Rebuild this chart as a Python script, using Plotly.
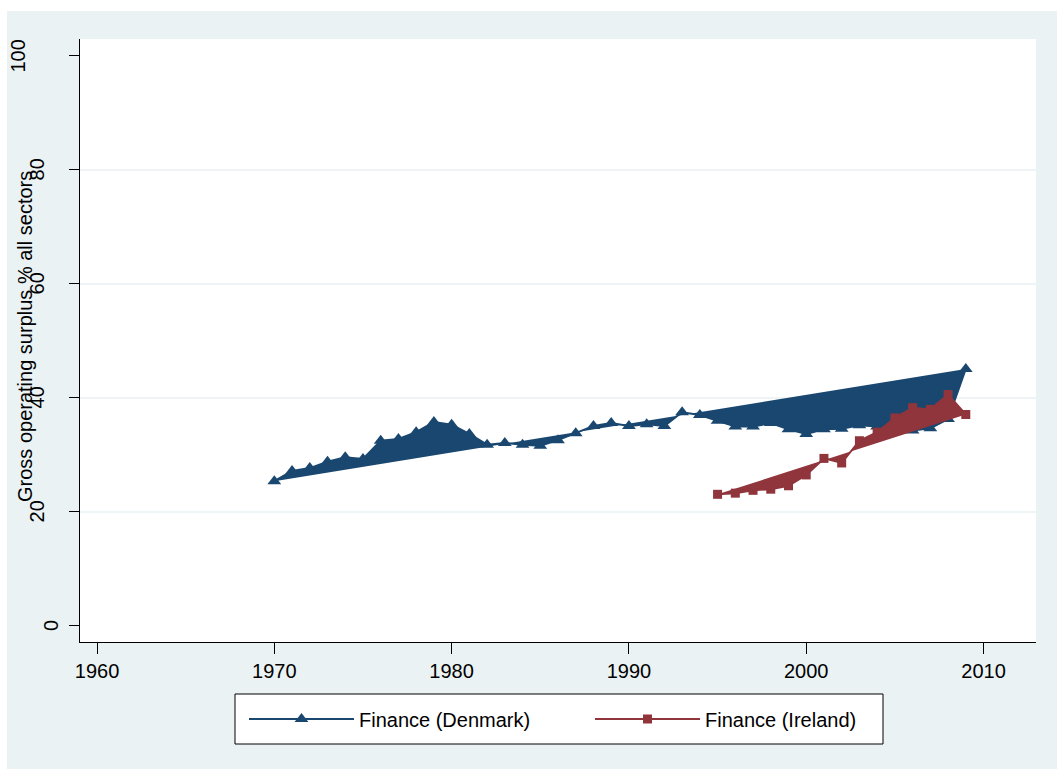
import plotly.graph_objects as go

# Gross operating surplus of the finance sector, % of all sectors
years_denmark = list(range(1970, 2010))
finance_denmark = [
    25.4, 27.2, 27.7, 28.8, 29.6, 29.3, 32.5, 32.8, 34.0, 35.8,
    35.3, 33.7, 31.8, 32.1, 31.8, 31.6, 32.6, 33.8, 35.1, 35.6,
    35.1, 35.4, 35.1, 37.5, 37.0, 36.0, 35.0, 35.0, 35.6, 34.5,
    33.7, 34.5, 34.6, 35.2, 35.0, 35.3, 34.3, 34.7, 36.3, 45.1,
]
years_ireland = list(range(1995, 2010))
finance_ireland = [
    23.1, 23.3, 23.8, 24.0, 24.6, 26.5, 29.4, 28.6, 32.5, 34.0,
    36.5, 38.3, 38.0, 40.6, 37.1,
]

x_ticks = [1960, 1970, 1980, 1990, 2000, 2010]
y_ticks = [0, 20, 40, 60, 80, 100]
y_grid = [20, 40, 60, 80]

series_names = ["Finance (Denmark)", "Finance (Ireland)"]
NAVY = "#1a476f"
MAROON = "#90353b"
BG = "#eaf2f3"
FONT = "Liberation Sans, Arial, Helvetica, sans-serif"

# page geometry (pixels)
W, H = 1057, 772
L, R, T, B = 80, 1036, 39, 642


def px_x(p):
    return (p - L) / (R - L)


def px_y(p):
    return (B - p) / (B - T)


fig = go.Figure()

# each series is drawn as a closed, filled outline
fig.add_trace(go.Scatter(
    x=years_denmark, y=finance_denmark, mode="lines+markers",
    fill="toself", fillcolor=NAVY,
    line=dict(color=NAVY, width=2),
    marker=dict(symbol="triangle-up", size=12, color=NAVY),
    showlegend=False, hoverinfo="x+y",
))
fig.add_trace(go.Scatter(
    x=years_ireland, y=finance_ireland, mode="lines+markers",
    fill="toself", fillcolor=MAROON,
    line=dict(color=MAROON, width=2),
    marker=dict(symbol="square", size=9, color=MAROON),
    showlegend=False, hoverinfo="x+y",
))

# legend entries
fig.add_trace(go.Scatter(
    x=[None], y=[None], mode="lines+markers", name=series_names[0],
    line=dict(color=NAVY, width=2),
    marker=dict(symbol="triangle-up", size=12, color=NAVY),
))
fig.add_trace(go.Scatter(
    x=[None], y=[None], mode="lines+markers", name=series_names[1],
    line=dict(color=MAROON, width=2),
    marker=dict(symbol="square", size=9, color=MAROON),
))

shapes = []
# white page edges around the tinted graph region
shapes.append(dict(type="rect", xref="paper", yref="paper", layer="below",
                   x0=px_x(0), x1=px_x(7), y0=px_y(H), y1=px_y(0),
                   fillcolor="white", line=dict(width=0)))
shapes.append(dict(type="rect", xref="paper", yref="paper", layer="below",
                   x0=px_x(0), x1=px_x(W), y0=px_y(11), y1=px_y(0),
                   fillcolor="white", line=dict(width=0)))
shapes.append(dict(type="rect", xref="paper", yref="paper", layer="below",
                   x0=px_x(0), x1=px_x(W), y0=px_y(H), y1=px_y(769),
                   fillcolor="white", line=dict(width=0)))
# horizontal grid
for g in y_grid:
    shapes.append(dict(type="line", xref="paper", yref="y", layer="below",
                       x0=0, x1=1, y0=g, y1=g,
                       line=dict(color=BG, width=1.5)))
# legend frame
shapes.append(dict(type="rect", xref="paper", yref="paper", layer="above",
                   x0=px_x(235), x1=px_x(883), y0=px_y(744), y1=px_y(694),
                   fillcolor="white", line=dict(color="black", width=1)))

annotations = []
# vertical y tick labels
for v in y_ticks:
    n = len(str(v))
    shift = -29 - 14.5 * (n - 1) - 2.2 * (n - 1) * (n - 2)
    annotations.append(dict(
        text=str(v), xref="paper", yref="y", x=0, y=v, xshift=shift,
        xanchor="center", yanchor="middle", textangle=-90, showarrow=False,
        font=dict(family=FONT, size=20, color="black"),
    ))
# y axis title
annotations.append(dict(
    text="Gross operating surplus % all sectors", xref="paper", yref="paper",
    x=0, y=px_y(337), xshift=-(L - 25), xanchor="center", yanchor="middle",
    textangle=-90, showarrow=False,
    font=dict(family=FONT, size=20, color="black"),
))

fig.update_layout(
    width=W, height=H,
    margin=dict(l=L, r=W - R, t=T, b=H - B),
    paper_bgcolor=BG, plot_bgcolor="white",
    font=dict(family=FONT, size=20, color="black"),
    shapes=shapes, annotations=annotations,
    showlegend=True,
    legend=dict(
        orientation="h", x=px_x(244), xanchor="left",
        y=px_y(719), yanchor="middle",
        bgcolor="rgba(0,0,0,0)", borderwidth=0,
        itemwidth=105, entrywidth=226, entrywidthmode="pixels",
        font=dict(family=FONT, size=20, color="black"),
    ),
    xaxis=dict(
        range=[1959.04, 2012.96], tickvals=x_ticks, ticktext=[str(t) for t in x_ticks],
        showgrid=False, zeroline=False, showline=True, linecolor="black", linewidth=1,
        ticks="outside", ticklen=11, tickwidth=1, tickcolor="black",
        tickfont=dict(family=FONT, size=20, color="black"),
    ),
    yaxis=dict(
        range=[-2.81, 102.98], tickvals=y_ticks, showticklabels=False,
        showgrid=False, zeroline=False, showline=True, linecolor="black", linewidth=1,
        ticks="outside", ticklen=10, tickwidth=1, tickcolor="black",
    ),
)

fig.write_html("out.html")
